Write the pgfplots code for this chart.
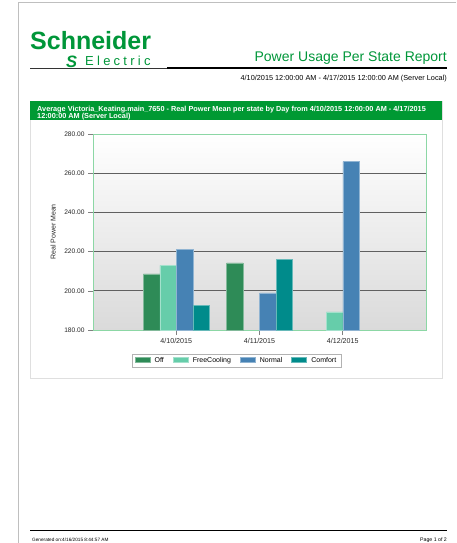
\documentclass[border=0pt]{standalone}
\usepackage{fontspec}
\setmainfont{Liberation Sans}
\newfontfamily\elfont[LetterSpace=25]{Liberation Sans}
\usepackage{pgfplots}
\pgfplotsset{compat=1.18}
\definecolor{segreen}{RGB}{0,150,57}
\definecolor{hdrgreen}{RGB}{0,153,51}
\definecolor{frame}{RGB}{140,215,165}
\definecolor{cOff}{RGB}{46,139,87}
\definecolor{cFree}{RGB}{102,205,170}
\definecolor{cNormal}{RGB}{70,130,180}
\definecolor{cComfort}{RGB}{0,139,139}
\definecolor{bgbot}{RGB}{218,218,218}
\begin{document}
\begin{tikzpicture}
\useasboundingbox (0,0) rectangle (456pt,-543pt);
% page edges
\draw[gray!50, line width=1pt] (18pt,-543pt) -- (18pt,-3pt) -- (456pt,-3pt);
% logo
\node[anchor=base west, inner sep=0pt, text=segreen] at (30pt,-49.5pt) {\fontsize{25}{25}\selectfont\bfseries Schneider};
\node[anchor=base west, inner sep=0pt, text=segreen] at (85pt,-65pt) {\fontsize{13}{13}\selectfont\elfont Electric};
\node[anchor=base west, inner sep=0pt, text=segreen] at (66pt,-67pt) {\fontsize{16.5}{16.5}\selectfont\bfseries\itshape S};
% title
\node[anchor=base east, inner sep=0pt, text=segreen] at (447pt,-62pt) {\fontsize{14}{14}\selectfont Power Usage Per State Report};
\draw[black!80, line width=0.6pt] (30pt,-68pt) -- (167pt,-68pt);
\draw[black, line width=1.3pt] (167pt,-68pt) -- (447pt,-68pt);
\node[anchor=base east, inner sep=0pt] at (447pt,-80.5pt) {\fontsize{7.3}{8}\selectfont 4/10/2015 12:00:00 AM - 4/17/2015 12:00:00 AM (Server Local)};
% chart panel
\draw[gray!25, line width=0.8pt] (30pt,-101pt) rectangle (442pt,-378pt);
\fill[hdrgreen] (30pt,-101pt) rectangle (442pt,-120pt);
\node[anchor=base west, inner sep=0pt, text=white] at (37pt,-111pt) {\fontsize{7.3}{7}\selectfont\bfseries Average Victoria\_Keating.main\_7650 - Real Power Mean per state by Day from 4/10/2015 12:00:00 AM - 4/17/2015};
\node[anchor=base west, inner sep=0pt, text=white] at (37pt,-118pt) {\fontsize{7.3}{7}\selectfont\bfseries 12:00:00 AM (Server Local)};
% footer
\draw[black, line width=1.4pt] (30pt,-530.5pt) -- (447pt,-530.5pt);
\node[anchor=base west, inner sep=0pt] at (32pt,-541pt) {\fontsize{4.7}{5}\selectfont Generated on:4/16/2015 8:44:57 AM};
\node[anchor=base east, inner sep=0pt] at (447pt,-541pt) {\fontsize{5.2}{5}\selectfont Page 1 of 2};
\begin{axis}[
  at={(93pt,-330pt)}, anchor=south west,
  scale only axis, width=333pt, height=196pt,
  xmin=0, xmax=4, ymin=180, ymax=280,
  ybar=0pt, bar width=16.5pt,
  xtick={1,2,3}, xticklabels={4/10/2015,4/11/2015,4/12/2015},
  ytick={180,200,220,240,260,280},
  yticklabel style={/pgf/number format/fixed, /pgf/number format/fixed zerofill, /pgf/number format/precision=2, font=\fontsize{6.6}{7}\selectfont},
  xticklabel style={font=\fontsize{7.1}{7}\selectfont},
  /pgf/number format/assume math mode=true,
  tick label style={text=black!85},
  tick align=outside, major tick length=5pt,
  tick style={gray, line width=0.6pt},
  xtick pos=bottom, ytick pos=left,
  ymajorgrids, grid style={gray!75!black, line width=0.8pt},
  axis line style={frame, line width=0.9pt},
  axis background/.style={top color=white, bottom color=bgbot},
  ylabel={Real Power Mean}, ylabel style={font=\fontsize{7}{7}\selectfont, at={(rel axis cs:0,0.5)}, anchor=center, yshift=40pt, text=black!85},
  legend columns=4,
  legend style={at={(rel axis cs:0.431,-0.122)}, anchor=north, draw=gray!60, line width=0.6pt,
     font=\fontsize{7}{7}\selectfont, inner xsep=3pt, inner ysep=1.5pt,
     /tikz/every odd column/.append style={column sep=2.5pt},
     /tikz/every even column/.append style={column sep=7pt}},
  legend image code/.code={\fill[#1] (0pt,-1pt) rectangle (15pt,4pt);},
]
\addplot[fill=cOff, draw=cOff!60!white, line width=0.4pt] coordinates {(1,208.6) (2,214.2)};
\addplot[fill=cFree, draw=cFree!60!white, line width=0.4pt] coordinates {(1,213.0) (3,189.2)};
\addplot[fill=cNormal, draw=cNormal!60!white, line width=0.4pt] coordinates {(1,221.2) (2,198.9) (3,265.9)};
\addplot[fill=cComfort, draw=cComfort!60!white, line width=0.4pt] coordinates {(1,192.6) (2,216.1)};
\legend{Off,FreeCooling,Normal,Comfort}
\end{axis}
\end{tikzpicture}
\end{document}
